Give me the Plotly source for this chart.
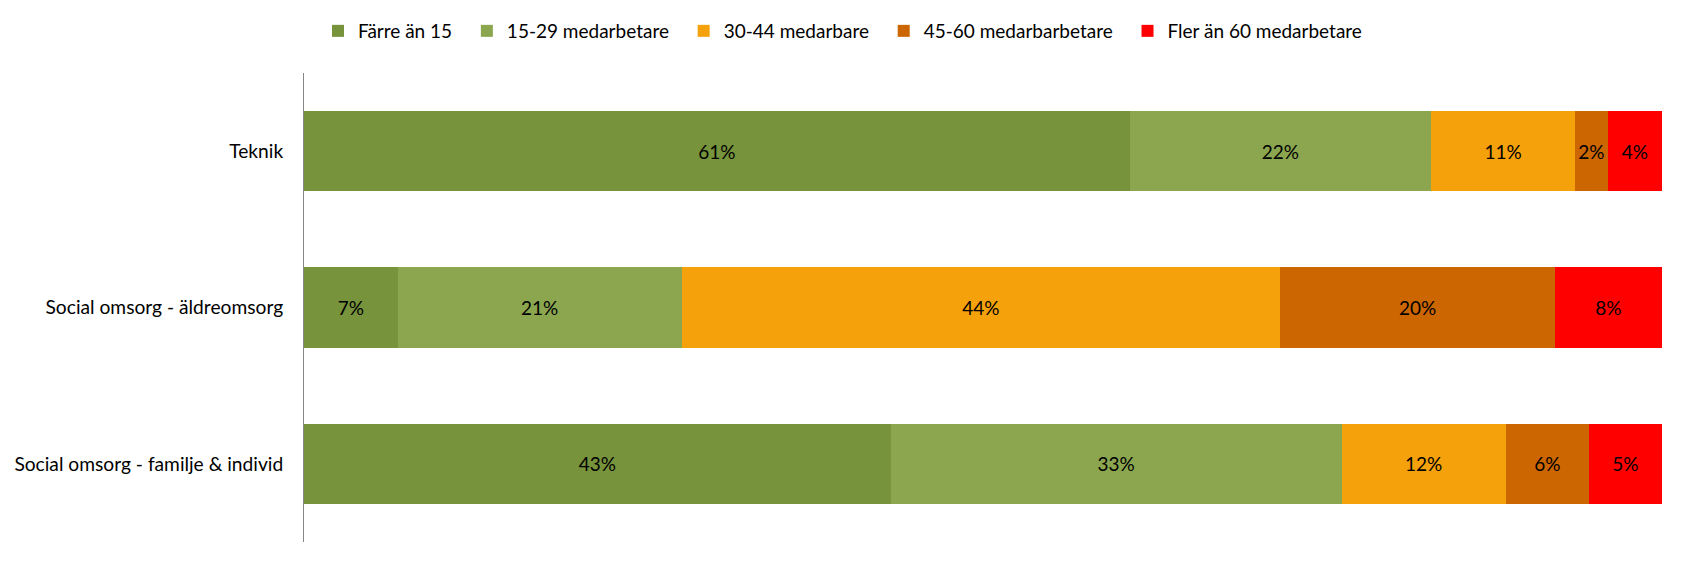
import plotly.graph_objects as go

categories = ["Teknik", "Social omsorg - äldreomsorg", "Social omsorg - familje & individ"]
series_names = ["Färre än 15", "15-29 medarbetare", "30-44 medarbare", "45-60 medarbarbetare", "Fler än 60 medarbetare"]
farre_an_15 = [60.8, 6.9, 43.2]
m15_29 = [22.2, 20.9, 33.2]
m30_44 = [10.6, 44.1, 12.1]
m45_60 = [2.4, 20.2, 6.1]
fler_an_60 = [4.0, 7.9, 5.4]
colors = ["#77933C", "#8BA64F", "#F5A10B", "#CC6600", "#FF0000"]

series_values = [farre_an_15, m15_29, m30_44, m45_60, fler_an_60]

FONT = "Lato"
PAD = "\u00a0" * 2
fig = go.Figure()
for i, (name, vals, col) in enumerate(zip(series_names, series_values, colors)):
    label = name + (PAD if i < len(series_names) - 1 else "")
    fig.add_trace(go.Bar(
        y=categories, x=vals, name=label, orientation="h",
        marker=dict(color=col, line=dict(width=0)),
        texttemplate="%{x:.0f}%", textposition="inside",
        insidetextanchor="middle", textangle=0, constraintext="none",
        textfont=dict(family=FONT, size=19, color="#000000"),
        hoverinfo="skip",
    ))

fig.update_layout(
    barmode="stack",
    bargap=0.487,
    width=1685, height=564,
    margin=dict(l=304, r=23, t=73, b=22),
    paper_bgcolor="white", plot_bgcolor="white",
    font=dict(family=FONT, size=19, color="#000000"),
    showlegend=True,
    legend=dict(orientation="h", xref="container", x=0.500, xanchor="center",
                yref="container", y=1 - 31 / 564, yanchor="middle",
                font=dict(family=FONT, size=19, color="#000000"),
                traceorder="normal", itemwidth=30),
    xaxis=dict(range=[0, 100], visible=False, showgrid=False, zeroline=False, fixedrange=True),
    yaxis=dict(autorange="reversed", showline=True, linecolor="#868686", linewidth=1,
               showgrid=False, zeroline=False, ticks="", ticklabelstandoff=16,
               tickfont=dict(family=FONT, size=19.2, color="#000000")),
)

fig.write_html("out.html")
